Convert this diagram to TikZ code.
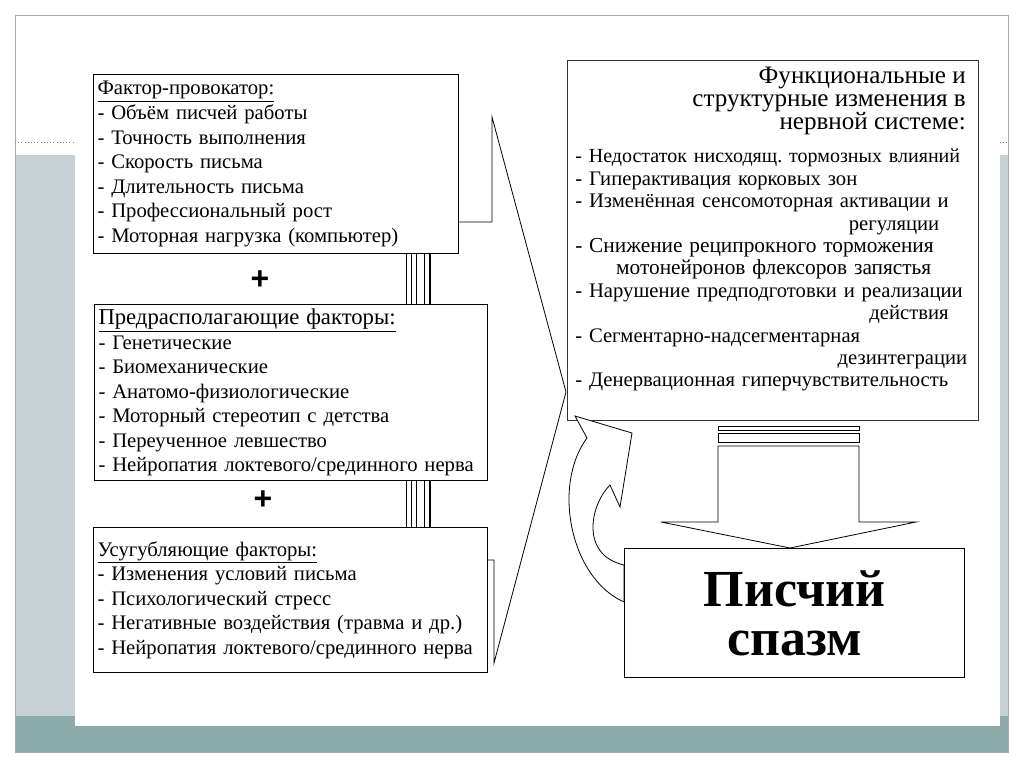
\documentclass[tikz,border=0pt]{standalone}
\usepackage{fontspec}
\setmainfont{Liberation Serif}
\newfontfamily\plusfont{Liberation Sans}
\usetikzlibrary{calc}
\definecolor{SlideBand}{RGB}{197,209,213}
\definecolor{SlideTeal}{RGB}{140,171,170}
\definecolor{SlideFrame}{RGB}{165,175,175}
\tikzset{
  factbox/.style={rectangle, draw=black, fill=white, line width=0.75pt,
                  anchor=north west, inner xsep=3pt, align=left,
                  font=\fontsize{15.5}{18.4}\selectfont},
  listtext/.style={anchor=north west, inner sep=0pt, align=left,
                   text width=294pt, font=\fontsize{15.5}{16.8}\selectfont},
  plusmark/.style={inner sep=0pt, font=\plusfont\bfseries\fontsize{24}{24}\selectfont},
  blockarr/.style={draw=black, fill=white, line width=0.6pt},
  strip/.style={line width=0.5pt},
}

\begin{document}
\frenchspacing
\begin{tikzpicture}[x=0.75pt, y=-0.75pt]
      \useasboundingbox (0,0) rectangle (1024,767);
      % slide background
      \fill[SlideBand] (15,155) rectangle (75,716);
      \fill[SlideBand] (1000,155) rectangle (1008,716);
      \fill[SlideTeal] (15,716) rectangle (1008,752);
      \fill[white] (75,155) rectangle (1000,726);
      \draw[SlideFrame, line width=0.6pt] (15,15) rectangle (1008,752);
      \draw[gray, dotted] (15,142) -- (75,142);
      \draw[gray, dotted] (1000,142) -- (1008,142);

      % big chevron behind the factor boxes
      \draw[blockarr] (458,222) -- (492,222) -- (492,117) -- (566,392)
            -- (494,663) -- (494,560) -- (487,560);

      \node[factbox, text width=267.75pt, minimum height=134.25pt] (f1) at (93,74)
            {\underline{Фактор-провокатор:}\\
             - Объём писчей работы\\
             - Точность выполнения\\
             - Скорость письма\\
             - Длительность письма\\
             - Профессиональный рост\\
             - Моторная нагрузка (компьютер)};
      \node[factbox, text width=288.75pt, minimum height=130.5pt] (f2) at (94,304)
            {{\fontsize{17}{18.4}\selectfont\underline{Предрасполагающие факторы:}}\\
             - Генетические\\
             - Биомеханические\\
             - Анатомо-физиологические\\
             - Моторный стереотип с детства\\
             - Переученное левшество\\
             - Нейропатия локтевого/срединного нерва};
      \node[factbox, text width=289.5pt, minimum height=108.75pt] (f3) at (93,527)
            {\underline{Усугубляющие факторы:}\\
             - Изменения условий письма\\
             - Психологический стресс\\
             - Негативные воздействия (травма и др.)\\
             - Нейропатия локтевого/срединного нерва};

      \foreach \lx in {406,411,416,424} {
        \draw[strip] (\lx,0 |- f1.south) -- (\lx,0 |- f2.north);
        \draw[strip] (\lx,0 |- f2.south) -- (\lx,0 |- f3.north);
      }
      \draw[line width=1.5pt] (430,0 |- f1.south) -- (430,0 |- f2.north);
      \draw[line width=1.5pt] (430,0 |- f2.south) -- (430,0 |- f3.north);

      \node[plusmark] (plus1) at (260,280) {+};
      \node[plusmark] (plus2) at (263,500) {+};

      \node[rectangle, draw=black!80, fill=white, line width=0.75pt, anchor=north west,
            minimum width=308.25pt, minimum height=270pt] (chg) at (567,60) {};
      \node[anchor=north east, align=right, inner sep=0pt,
            font=\fontsize{18.8}{17.2}\selectfont] (chgtitle) at (966,67)
            {Функциональные и\\структурные изменения в\\нервной системе:};
      \node[listtext] (chglist) at (575,149)
            {{\fontsize{15}{16.8}\selectfont - Недостаток нисходящ. тормозных влияний}\\
             - Гиперактивация корковых зон\\
             - Изменённая сенсомоторная активации и\\
             \mbox{}\hfill регуляции\hspace*{21pt}\mbox{}\\
             {\fontsize{16}{16.8}\selectfont - Снижение реципрокного торможения}\\
             \mbox{}\hfill{\fontsize{16}{16.8}\selectfont мотонейронов флексоров запястья}\hspace*{27pt}\mbox{}\\
             - Нарушение предподготовки и реализации\\
             \mbox{}\hfill действия\hspace*{14pt}\mbox{}\\
             - Сегментарно-надсегментарная\\
             \mbox{}\hfill дезинтеграции\\
             - Денервационная гиперчувствительность};

      % curved arrow back to the changes box
      \draw[blockarr] (575,416) -- (632,433) -- (620,507) -- (610,485)
            .. controls (590,505) and (580,555) .. (624,565) -- (624,602)
            .. controls (570,578) and (552,485) .. (587,438) -- cycle;

      % down arrow
      \draw[blockarr] (718,426) rectangle (859,430);
      \draw[blockarr] (718,433) rectangle (859,442);
      \draw[blockarr] (718,446) -- (718,522) -- (661,522) -- (790,548)
            -- (916,522) -- (859,522) -- (859,446) -- cycle;

      \node[rectangle, draw=black, fill=white, line width=0.75pt, anchor=north west,
            minimum width=255pt, minimum height=96.75pt, align=center,
            font=\fontsize{39}{36.75}\selectfont\bfseries] (spasm) at (624,548)
            {Писчий\\спазм};
\end{tikzpicture}
\end{document}
